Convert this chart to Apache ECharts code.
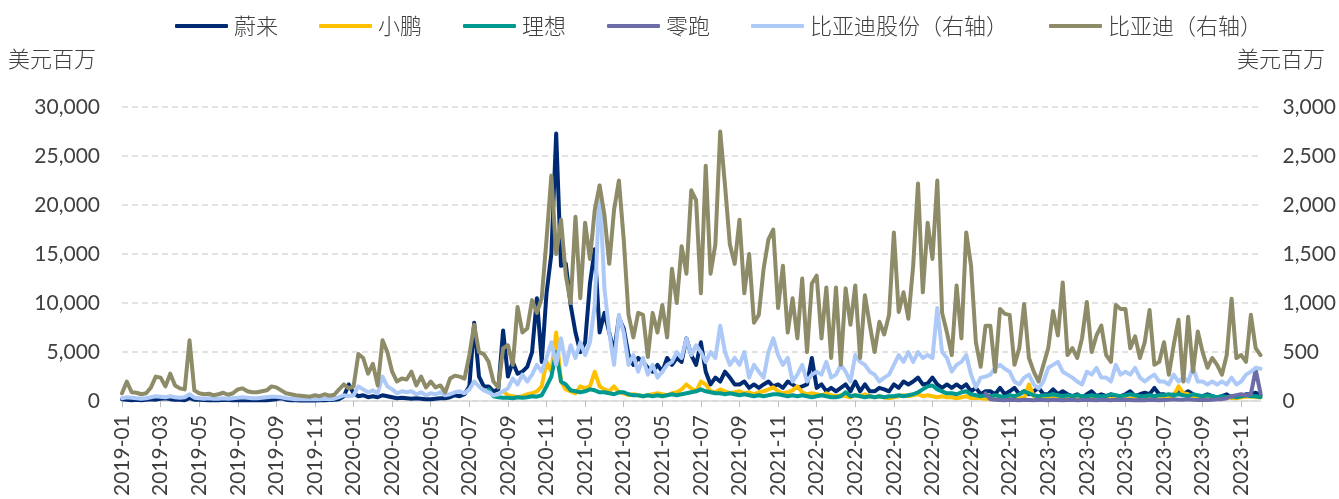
<!DOCTYPE html>
<html><head><meta charset="utf-8">
<script src="https://cdn.jsdelivr.net/npm/echarts@6/dist/echarts.min.js"></script>
<style>html,body{margin:0;padding:0;background:#fff}#c{width:1339px;height:499px}</style>
</head><body><div id="c"></div>
<script>
// ---- axis / category definitions ----
const years = [2019, 2020, 2021, 2022, 2023];
const monthsPerYear = 12;
const weeksPerMonth = 4;          // four samples per month
const lastCategory = '2023-12-w1';
const leftTicks = [0, 5000, 10000, 15000, 20000, 25000, 30000];
const rightTicks = [0, 500, 1000, 1500, 2000, 2500, 3000];
const unitLabel = '美元百万';

// ---- series values (US$ mn traded), four samples per month ----
const nio = [
  200,150,100,150, 100,150,200,150, 250,300,200,150, 150,100,300,150, 150,120,100,100, 100,150,120,100,
  100,80,100,80, 100,80,100,150, 200,300,150,100, 80,60,80,60, 60,80,100,120, 150,200,500,1700,
  800,500,600,400, 500,400,600,500, 400,300,350,300, 250,300,250,200, 200,250,300,300, 400,600,500,700,
  1500,8000,2500,1500, 1500,1000,1200,7200, 2500,4000,2800,3000, 3500,5000,10500,4000, 11000,15000,27300,13800, 14000,9800,7000,5000,
  6000,12000,15500,7000, 9000,7000,5000,8500, 7400,4700,3700,4400, 4000,3400,3000,3700, 3000,4400,3700,4400, 4000,6400,4700,3700,
  6000,3000,1700,2400, 2000,3000,2400,1700, 1700,2000,1350,1700, 1350,1700,2000,1500, 1700,1350,2000,1700, 1350,1500,1700,4400,
  1350,1700,1000,1350, 1000,1350,1700,1000, 2000,1000,1700,1000, 1000,1350,1200,1000, 1700,1350,2000,1700, 2000,2400,1700,1800,
  2400,1700,1350,1700, 1350,1700,1350,1700, 1000,1350,700,1000, 1000,700,1350,700, 1000,1350,700,1000, 700,1000,1350,700,
  700,1200,700,1000, 700,500,700,350, 700,1000,500,700, 500,700,350,500, 700,1000,500,700, 850,700,1350,700,
  700,500,700,1000, 700,1000,700,500, 500,700,500,350, 500,700,350,500, 500,700,700,850, 600
];
const xpengStart = '2020-08-w4';
const xpeng = [
  1000,
  600,500,400,500, 700,800,1000,1500, 4000,3000,7000,2000, 1200,1000,800,1500,
  1300,1500,3000,1500, 1200,1000,1500,900, 800,600,700,600, 500,600,700,800, 700,600,800,900, 1200,1700,1300,1000,
  2000,1700,1000,900, 1200,1000,800,900, 1000,800,900,700, 900,1000,1200,1400, 1000,800,900,1100, 1500,900,700,800,
  700,600,800,600, 500,600,500,400, 600,500,700,500, 400,500,400,300, 400,500,600,500, 600,700,500,600,
  500,400,500,400, 400,300,400,500, 300,350,300,250, 250,200,250,200, 300,400,350,300, 1700,500,400,300,
  300,400,350,300, 300,350,300,250, 250,300,250,200, 250,200,300,250, 300,250,300,350, 300,400,350,300,
  300,350,500,1500, 800,700,500,400, 350,300,400,300, 300,400,350,300, 400,450,500,400, 400
];
const liStart = '2020-08-w1';
const li = [
  1200,500,400,350, 350,300,400,350, 400,500,450,600, 1500,2500,5000,2000, 1700,1100,1000,900,
  1000,1200,1100,900, 900,800,700,900, 900,700,600,600, 500,600,500,600, 500,600,700,600, 700,800,900,1000,
  1200,1000,900,800, 800,700,800,700, 600,700,600,500, 600,500,600,700, 700,600,500,600, 500,600,500,400,
  500,600,500,400, 400,500,900,500, 600,500,400,500, 400,500,400,500, 500,600,500,600, 700,900,1200,1500,
  1600,1200,1000,800, 800,700,900,1000, 700,600,500,600, 500,600,500,400, 600,500,700,1000, 800,600,500,600,
  600,700,600,500, 600,500,600,500, 500,600,500,500, 500,700,600,500, 600,700,600,500, 500,600,500,600,
  600,700,600,700, 600,500,700,600, 500,600,500,400, 500,400,500,400, 500,600,500,500, 400
];
const leapStart = '2022-09-w4';
const leap = [
  800,
  200,150,120,100, 150,120,100,150, 120,100,150,120,
  100,150,120,100, 120,150,100,120, 150,120,100,150, 120,100,150,120, 150,120,100,120, 100,150,120,100,
  120,150,200,150, 150,200,150,120, 150,120,150,200, 200,300,500,600, 700,600,700,3200, 800
];
const bydH = [
  30,40,35,30, 25,30,40,50, 45,40,50,40, 35,40,70,35, 30,25,30,25, 25,30,25,30,
  35,40,35,30, 30,35,40,45, 45,40,30,25, 20,20,18,20, 20,18,25,20, 25,40,60,50,
  60,150,120,90, 110,80,250,150, 120,80,100,90, 100,70,90,60, 80,70,90,60, 70,90,100,80,
  120,200,150,110, 90,60,70,100, 130,230,170,270, 200,270,370,300, 440,600,370,640, 370,570,440,600,
  470,600,980,2200, 1150,700,370,880, 700,370,470,300, 440,270,370,240, 300,370,400,500, 440,640,470,570,
  500,400,500,440, 770,500,370,440, 370,500,240,370, 300,240,500,640, 470,370,440,200, 270,370,200,270,
  300,270,400,240, 270,370,300,200, 470,400,370,300, 270,200,240,270, 370,470,400,500, 400,500,440,470,
  440,950,500,440, 300,370,400,470, 270,140,240,250, 270,340,370,330, 300,200,170,240, 270,170,130,200,
  340,370,400,300, 270,240,200,170, 300,270,340,240, 240,200,370,270, 300,270,340,240, 200,240,270,200,
  200,170,270,200, 240,200,340,200, 200,170,200,170, 200,170,240,170, 200,270,300,340, 330
];
const byd = [
  80,200,90,85, 70,80,140,250, 240,150,280,160, 130,120,620,110, 80,70,75,60, 70,85,65,80,
  120,130,100,90, 90,100,110,150, 140,110,80,70, 60,55,50,45, 60,50,70,55, 65,120,170,130,
  150,480,440,280, 380,160,620,500, 300,200,230,220, 300,160,250,140, 200,140,160,90, 230,260,250,230,
  470,780,500,480, 400,200,140,540, 570,370,960,700, 740,1030,900,1050, 1650,2300,1500,1850, 1280,1000,1880,1050,
  1820,1450,1950,2200, 1900,1400,1950,2250, 1650,880,650,900, 880,450,900,700, 980,650,1350,1000, 1580,1300,2150,2050,
  1100,2400,1300,1600, 2750,2200,1600,1400, 1850,1100,1500,800, 880,1350,1650,1750, 950,1380,700,1050, 640,1250,500,1200,
  1280,640,1160,440, 1160,370,1150,780, 1180,440,1080,780, 500,810,680,880, 1720,910,1110,840, 1380,2220,1110,1820,
  1450,2250,900,700, 470,1180,640,1720, 1380,600,350,770, 770,300,940,890, 880,370,540,990, 440,300,200,370,
  540,920,670,1210, 470,540,440,640, 1010,500,670,770, 470,400,980,940, 940,540,660,440, 600,930,370,400,
  600,270,570,830, 200,860,300,710, 500,340,440,370, 270,470,1045,440, 470,400,880,540, 470
];

// ---- build categories ----
const categories = [];
outer:
for (const y of years) {
  for (let m = 1; m <= monthsPerYear; m++) {
    for (let w = 1; w <= weeksPerMonth; w++) {
      const c = y + '-' + String(m).padStart(2, '0') + '-w' + w;
      categories.push(c);
      if (c === lastCategory) break outer;
    }
  }
}
function fromStart(start, arr) {
  const s = categories.indexOf(start);
  return arr.map((v, i) => [s + i, v]);
}
const isLabelCat = (idx, val) => val.endsWith('-w1') && parseInt(val.slice(5, 7), 10) % 2 === 1;

const labelFont = 'Lato, "Open Sans", sans-serif';
const cjkFont = '"Noto Sans CJK SC", sans-serif';
const labelColor = '#404040';

const defs = [
  { name: '蔚来', data: nio.map((v, i) => [i, v]), color: '#002B73', axis: 0 },
  { name: '小鹏', data: fromStart(xpengStart, xpeng), color: '#FFC000', axis: 0 },
  { name: '理想', data: fromStart(liStart, li), color: '#00998F', axis: 0 },
  { name: '零跑', data: fromStart(leapStart, leap), color: '#6C6DA6', axis: 0 },
  { name: '比亚迪股份（右轴）', data: bydH.map((v, i) => [i, v]), color: '#ADC9F8', axis: 1 },
  { name: '比亚迪（右轴）', data: byd.map((v, i) => [i, v]), color: '#8E8B68', axis: 1 }
];

const chart = echarts.init(document.getElementById('c'), null, { renderer: 'canvas' });
chart.setOption({
  animation: false,
  backgroundColor: '#fff',
  grid: { left: 122, right: 77, top: 107, bottom: 96, containLabel: false },
  legend: {
    left: 170, top: 10,
    itemWidth: 53, itemHeight: 4, itemGap: 41,
    icon: 'roundRect',
    textStyle: { fontFamily: cjkFont, fontSize: 22, fontWeight: 300, color: '#404040', padding: [0, 0, 0, 1] },
    data: defs.map(d => d.name)
  },
  graphic: [
    { type: 'text', left: 8, top: 48, style: { text: unitLabel, font: '300 22px ' + cjkFont, fill: '#404040' } },
    { type: 'text', left: 1237, top: 48, style: { text: unitLabel, font: '300 22px ' + cjkFont, fill: '#404040' } }
  ],
  xAxis: {
    type: 'category',
    data: categories,
    boundaryGap: false,
    axisLine: { show: true, lineStyle: { color: '#D9D9D9', width: 1.5 } },
    axisTick: { show: true, interval: isLabelCat, length: 6, lineStyle: { color: '#BFBFBF', width: 1 } },
    axisLabel: {
      interval: isLabelCat, rotate: 90, margin: 14,
      fontFamily: labelFont, fontSize: 21, color: labelColor,
      formatter: v => v.slice(0, 7)
    },
    splitLine: { show: false }
  },
  yAxis: [
    {
      type: 'value', min: leftTicks[0], max: leftTicks[leftTicks.length - 1], interval: leftTicks[1] - leftTicks[0],
      axisLine: { show: false }, axisTick: { show: false },
      axisLabel: { margin: 22, fontFamily: labelFont, fontSize: 21, color: labelColor,
        formatter: v => v.toLocaleString('en-US') },
      splitLine: { show: true, lineStyle: { color: '#D9D9D9', width: 1.5, type: [6, 4] } }
    },
    {
      type: 'value', min: rightTicks[0], max: rightTicks[rightTicks.length - 1], interval: rightTicks[1] - rightTicks[0],
      axisLine: { show: false }, axisTick: { show: false },
      axisLabel: { margin: 22, fontFamily: labelFont, fontSize: 21, color: labelColor,
        formatter: v => v.toLocaleString('en-US') },
      splitLine: { show: false }
    }
  ],
  series: defs.map((d, k) => ({
    name: d.name,
    type: 'line',
    yAxisIndex: d.axis,
    data: d.data,
    showSymbol: false,
    symbol: 'none',
    z: 2 + k,
    itemStyle: { color: d.color },
    lineStyle: { color: d.color, width: 4, cap: 'round', join: 'round' }
  }))
});
</script></body></html>
